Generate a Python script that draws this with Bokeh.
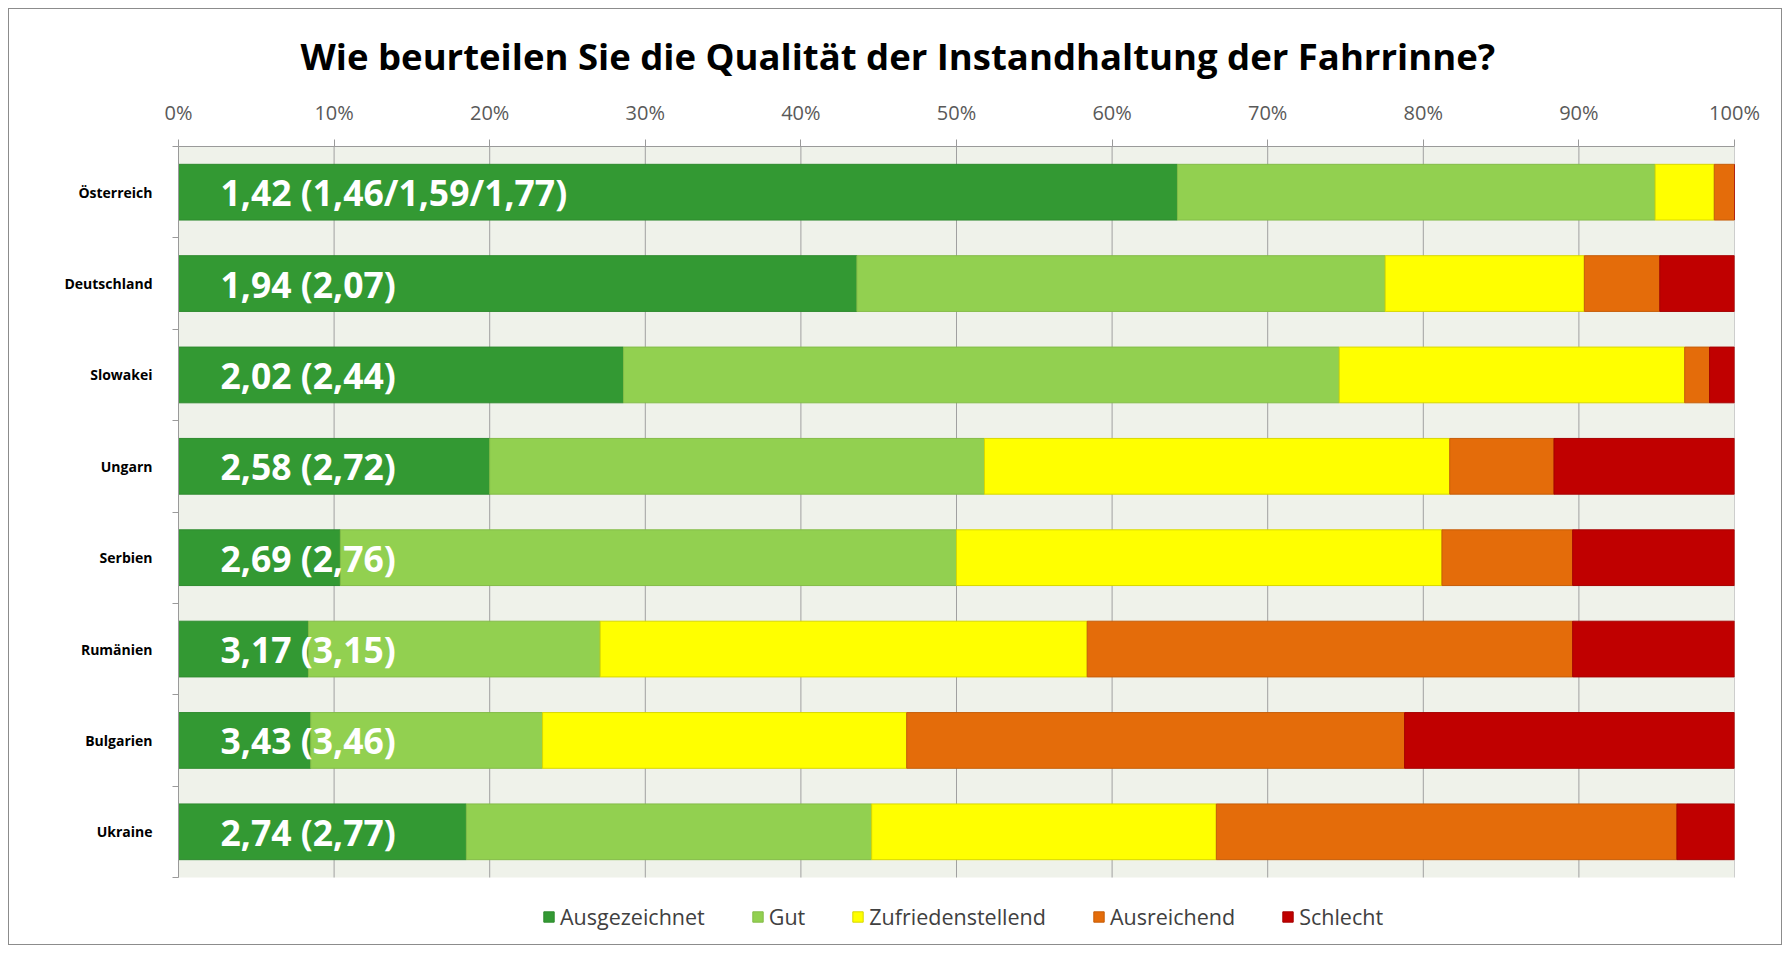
from bokeh.plotting import figure
from bokeh.models import (ColumnDataSource, Range1d, FixedTicker, PrintfTickFormatter,
                          Legend, LegendItem)
from bokeh.core.properties import value
from bokeh.embed import file_html
from bokeh.resources import INLINE

# ---------------- data ----------------
countries = ["Österreich", "Deutschland", "Slowakei", "Ungarn",
             "Serbien", "Rumänien", "Bulgarien", "Ukraine"]
series = ["Ausgezeichnet", "Gut", "Zufriedenstellend", "Ausreichend", "Schlecht"]
ausgezeichnet = [64.2, 43.6, 28.6, 20.0, 10.4, 8.35, 8.5, 18.5]
gut = [30.7, 33.95, 46.0, 31.8, 39.6, 18.75, 14.9, 26.05]
zufriedenstellend = [3.8, 12.8, 22.2, 29.9, 31.2, 31.3, 23.4, 22.15]
ausreichend = [1.3, 4.85, 1.6, 6.7, 8.4, 31.2, 32.0, 29.6]
schlecht = [0.0, 4.8, 1.6, 11.6, 10.4, 10.4, 21.2, 3.7]
bar_labels = ["1,42 (1,46/1,59/1,77)", "1,94 (2,07)", "2,02 (2,44)", "2,58 (2,72)",
              "2,69 (2,76)", "3,17 (3,15)", "3,43 (3,46)", "2,74 (2,77)"]
x_ticks = [0, 10, 20, 30, 40, 50, 60, 70, 80, 90, 100]
title_text = "Wie beurteilen Sie die Qualität der Instandhaltung der Fahrrinne?"

colors = ["#339933", "#92D050", "#FFFF00", "#E46C0A", "#C00000"]
edge_colors = ["#2E8B2E", "#84BC48", "#D8D800", "#C65E09", "#A50000"]

FONT = "Open Sans"
n = len(countries)
ypos = [n - i - 0.5 for i in range(n)]
boundaries = [float(i) for i in range(n + 1)]

source = ColumnDataSource(dict(
    y=ypos,
    Ausgezeichnet=ausgezeichnet,
    Gut=gut,
    Zufriedenstellend=zufriedenstellend,
    Ausreichend=ausreichend,
    Schlecht=schlecht,
    label=bar_labels,
    x0=[0] * n,
))

# layout geometry (pixels)
W, H = 1774, 937
B_LEFT, B_RIGHT, B_TOP, B_BOTTOM = 169, 49, 137, 10
CAT_PX = 731            # pixel height of the category area
frame_h = H - B_TOP - B_BOTTOM
extra_units = (frame_h - CAT_PX) * n / CAT_PX   # room below the bars for the legend

p = figure(width=W, height=H, output_backend="svg", toolbar_location=None,
           x_range=Range1d(0, 100), y_range=Range1d(-extra_units, n),
           x_axis_location="above", title=title_text,
           min_border_left=B_LEFT, min_border_right=B_RIGHT,
           min_border_top=B_TOP, min_border_bottom=B_BOTTOM)
p.styles = {"border": "1px solid #8C8C8C", "margin-left": "8px", "margin-top": "8px"}
p.background_fill_color = "white"
p.border_fill_color = "white"
p.outline_line_color = None

p.title.align = "left"
p.title.offset = 122
p.title.standoff = 29
p.title.text_font = FONT
p.title.text_font_style = "bold"
p.title.text_font_size = "36.5px"
p.title.text_color = "black"

# plot area background and vertical gridlines (only over the category area)
p.quad(left=[0], right=[100], bottom=[0], top=[n], fill_color="#EFF2EA", line_color=None)
p.segment(x0=x_ticks, y0=[0] * len(x_ticks), x1=x_ticks, y1=[n] * len(x_ticks),
          line_color="#A0A0A0", line_width=1)

renderers = p.hbar_stack(series, y="y", height=0.61, source=source,
                         fill_color=colors, line_color=edge_colors, line_width=1)

p.text(x="x0", y="y", text="label", source=source, x_offset=42,
       text_color="white", text_font=value(FONT), text_font_style="bold",
       text_font_size="35.5px", text_align="left", text_baseline="middle")

# x axis (top)
xa = p.xaxis[0]
xa.ticker = FixedTicker(ticks=x_ticks)
xa.formatter = PrintfTickFormatter(format="%d%%")
xa.axis_line_color = "#9A9A9A"
xa.major_tick_line_color = "#9A9A9A"
xa.major_tick_out = 7
xa.major_tick_in = 0
xa.minor_tick_out = 0
xa.minor_tick_in = 0
xa.major_label_standoff = 14
xa.major_label_text_font = FONT
xa.major_label_text_font_size = "20px"
xa.major_label_text_color = "#595959"

# y axis (left), ticks at category boundaries
ya = p.yaxis[0]
ya.bounds = (0, n)
ya.ticker = FixedTicker(ticks=ypos, minor_ticks=boundaries)
ya.major_label_overrides = {yv: c for yv, c in zip(ypos, countries)}
ya.axis_line_color = "#9A9A9A"
ya.major_tick_out = 0
ya.major_tick_in = 0
ya.minor_tick_out = 6
ya.minor_tick_in = 0
ya.minor_tick_line_color = "#9A9A9A"
ya.major_label_standoff = 20
ya.major_label_text_font = FONT
ya.major_label_text_font_style = "bold"
ya.major_label_text_font_size = "14px"
ya.major_label_text_color = "black"

p.xgrid.visible = False
p.ygrid.visible = False

# legend inside the frame, below the bars
legend = Legend(items=[LegendItem(label=s, renderers=[r]) for s, r in zip(series, renderers)],
                orientation="horizontal", location=(364, 5),
                glyph_width=13, glyph_height=13, label_standoff=5, spacing=46,
                padding=0, margin=0, border_line_color=None, background_fill_alpha=0,
                label_text_font=FONT, label_text_font_size="21.5px",
                label_text_color="#404040", label_height=20)
p.add_layout(legend, "center")

open("out.html", "w").write(file_html(p, INLINE))
